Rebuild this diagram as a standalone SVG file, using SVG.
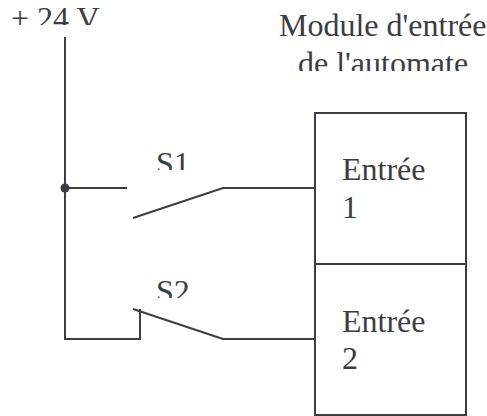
<svg xmlns="http://www.w3.org/2000/svg" width="487" height="416" viewBox="0 0 487 416">
<style>
.w{fill:none;stroke:#3c3c44;stroke-width:2}
.t{font-family:"Liberation Serif","Times New Roman",serif;font-size:32px;fill:#3c3c44}
</style>
<defs>
<clipPath id="c1"><rect x="0" y="0" width="120" height="25"/></clipPath>
<clipPath id="c2"><rect x="260" y="0" width="227" height="71"/></clipPath>
<clipPath id="c3"><rect x="140" y="140" width="60" height="30"/></clipPath>
<clipPath id="c4"><rect x="140" y="270" width="60" height="28"/></clipPath>
</defs>
<rect width="487" height="416" fill="#fff"/>
<g id="connectors">
<path class="w" d="M65 37V339H140V309"/>
<path class="w" d="M65 188H127"/>
<path class="w" d="M133 218L223 188H315"/>
<path class="w" d="M133 309L223 339H315"/>
<circle cx="65" cy="188" r="4.5" fill="#3c3c44"/>
</g>
<g id="supply"><text class="t" x="11" y="29" clip-path="url(#c1)">+ 24 V</text></g>
<g id="module-title">
<text class="t" x="279" y="36" clip-path="url(#c2)">Module d'entrée</text>
<text class="t" x="298" y="74" clip-path="url(#c2)">de l'automate</text>
</g>
<g id="s1"><text class="t" x="156" y="174" clip-path="url(#c3)">S1</text></g>
<g id="s2"><text class="t" x="156" y="302" clip-path="url(#c4)">S2</text></g>
<g id="entree1">
<rect class="w" x="315" y="113" width="151" height="151"/>
<text class="t" x="342" y="180">Entrée</text>
<text class="t" x="342" y="218">1</text>
</g>
<g id="entree2">
<rect class="w" x="315" y="264" width="151" height="151"/>
<text class="t" x="342" y="332">Entrée</text>
<text class="t" x="342" y="369">2</text>
</g>
</svg>
